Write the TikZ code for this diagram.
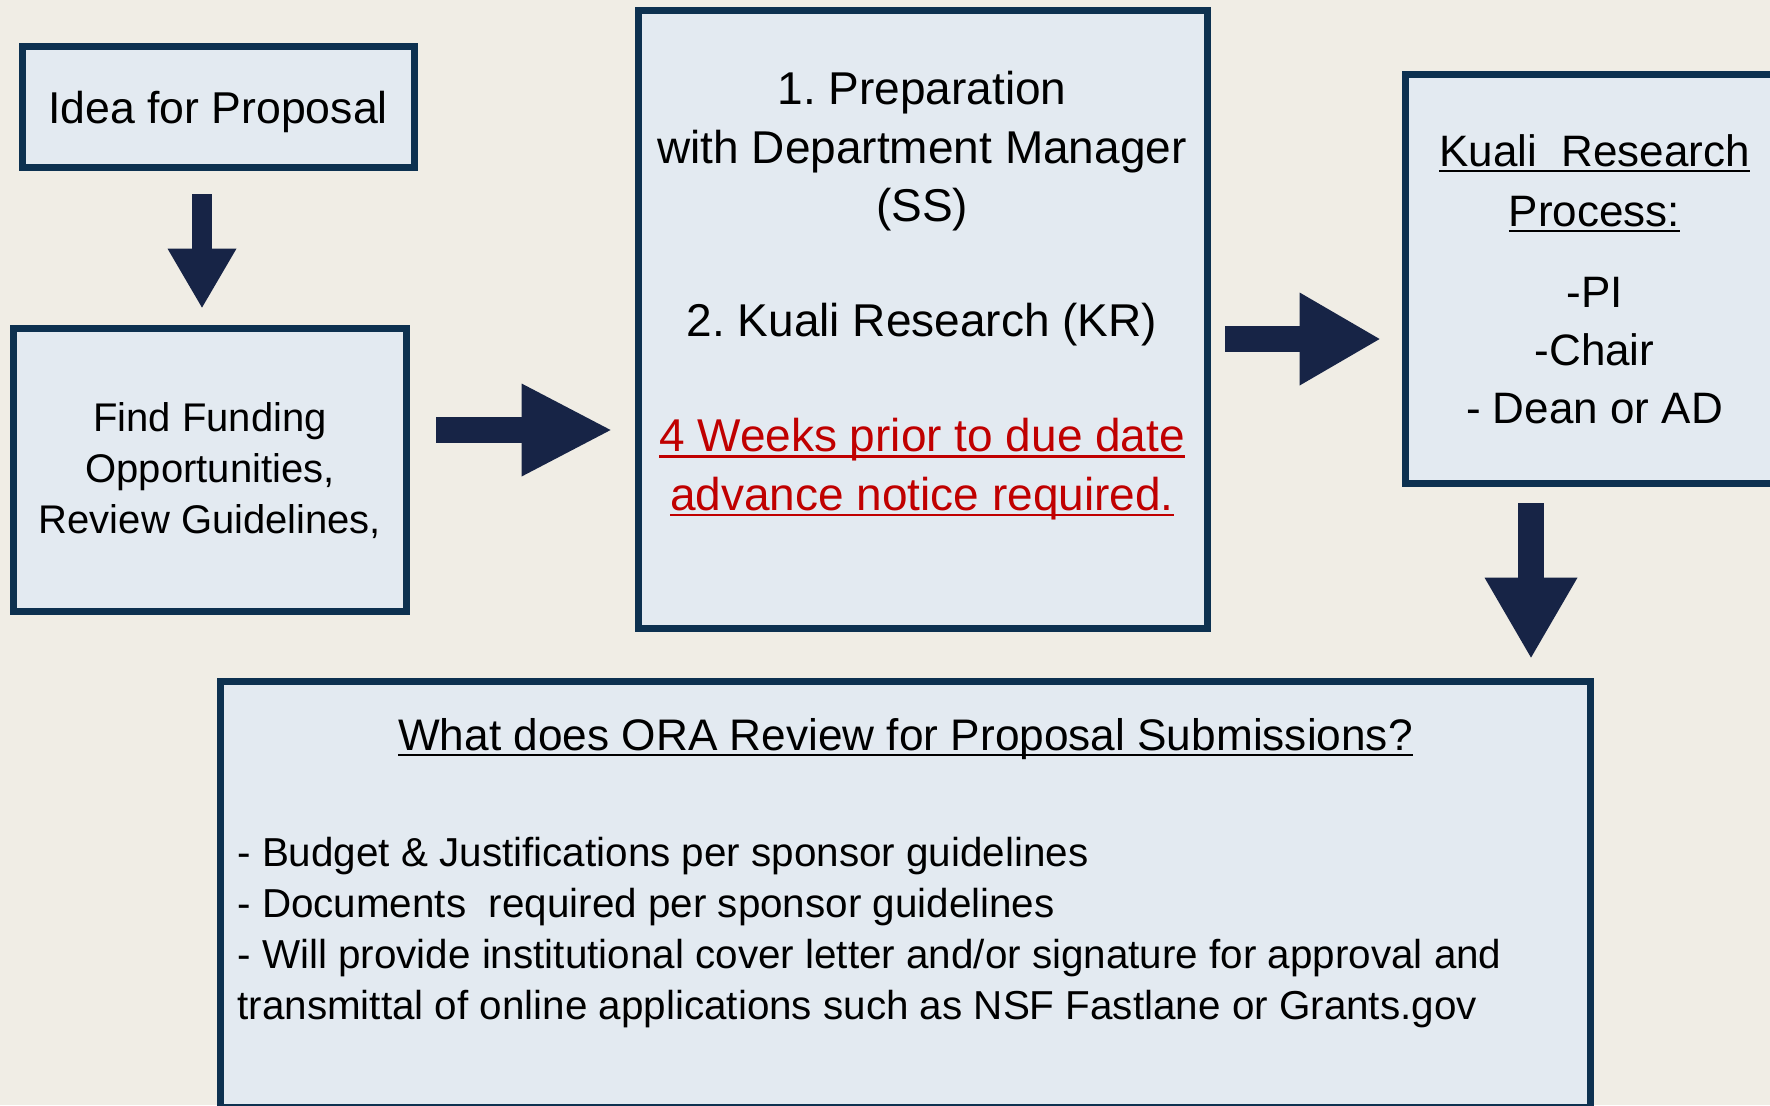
\documentclass[tikz,border=0pt]{standalone}
\usepackage{fontspec}
\setmainfont{Liberation Sans}
\usetikzlibrary{arrows.meta}
\definecolor{bgcol}{HTML}{F0EDE5}
\definecolor{boxfill}{HTML}{E3EAF1}
\definecolor{boxline}{HTML}{0D3150}
\definecolor{arrowcol}{HTML}{172446}
\definecolor{warnred}{HTML}{C00000}
\newcommand{\undl}[1]{\setbox0\hbox{#1}\rlap{\rule[-3.2pt]{\wd0}{1.3pt}}\box0}
\frenchspacing

\begin{document}
\begin{tikzpicture}[x=0.5pt,y=-0.5pt]
\tikzstyle{box}=[draw=boxline, fill=boxfill, line width=3.4pt, inner sep=0pt]
\tikzstyle{txt}=[align=center, anchor=base, inner sep=0pt]
\tikzstyle{bigarrow}=[draw=arrowcol, line width=13pt, -{Triangle[length=40pt,width=46.5pt,line width=0pt]}]
\tikzstyle{smallarrow}=[draw=arrowcol, line width=10pt, -{Triangle[length=29.5pt,width=34.5pt,line width=0pt]}]
\useasboundingbox (0,0) rectangle (1770,1105);
\fill[bgcol] (0,0) rectangle (1770,1105);
\clip (0,0) rectangle (1770,1105);

\node[box, minimum width=196pt, minimum height=60.6pt] (idea) at (218.5,107) {};
\node[box, minimum width=196.6pt, minimum height=141.6pt] (find) at (210,470) {};
\node[box, minimum width=284.6pt, minimum height=309.1pt] (prep) at (923,319.5) {};
\node[box, minimum width=189.6pt, minimum height=204.6pt] (kuali) at (1595,279) {};
\node[box, minimum width=685.1pt, minimum height=213.1pt] (review) at (905.5,894.5) {};

\node[txt, font=\fontsize{22.3}{29.5}\selectfont] (idea-txt) at (218,123.5) {Idea for Proposal};
\node[txt, font=\fontsize{20}{25.5}\selectfont] (find-txt) at (210,533)
  {Find Funding\\Opportunities,\\Review Guidelines,};
\node[txt, font=\fontsize{23}{29.25}\selectfont] (prep-txt) at (922,510)
  {1. Preparation\\with Department Manager\\(SS)\\[28pt]2. Kuali Research (KR)\\[28.5pt]
   \textcolor{warnred}{\undl{4 Weeks prior to due date}}\\
   \textcolor{warnred}{\undl{advance notice required.}}};
\node[txt, font=\fontsize{22}{29}\selectfont] (kuali-txt) at (1594.5,423)
  {\undl{Kuali\ \ Research}\\[1pt]\undl{Process:}\\[11.5pt]-PI\\-Chair\\- Dean or AD};
\node[txt, font=\fontsize{22.1}{29.5}\selectfont] (review-txt) at (905.5,750)
  {\undl{What does ORA Review for Proposal Submissions?}};
\node[txt, align=left, anchor=base west, font=\fontsize{20.2}{25.5}\selectfont] (review-list) at (237,1019)
  {- Budget \& Justifications per sponsor guidelines\\
   - Documents\ \ required per sponsor guidelines\\
   - Will provide institutional cover letter and/or signature for approval and\\
   transmittal of online applications such as NSF Fastlane or Grants.gov};

\coordinate (ax) at (202,0);
\coordinate (by) at (0,430);
\coordinate (cy) at (0,339);
\coordinate (dx) at (1531,0);
\draw[smallarrow, shorten <=11.5pt, shorten >=8.7pt] (idea.south -| ax) -- (find.north -| ax);
\draw[bigarrow, -{Triangle[length=44.5pt,width=46.5pt,line width=0pt]}, shorten <=13.2pt, shorten >=12.2pt] (find.east |- by) -- (prep.west |- by);
\draw[bigarrow, shorten <=7.2pt, shorten >=11.2pt] (prep.east |- cy) -- (kuali.west |- cy);
\draw[bigarrow, shorten <=8.2pt, shorten >=10.2pt] (kuali.south -| dx) -- (review.north -| dx);
\end{tikzpicture}
\end{document}
